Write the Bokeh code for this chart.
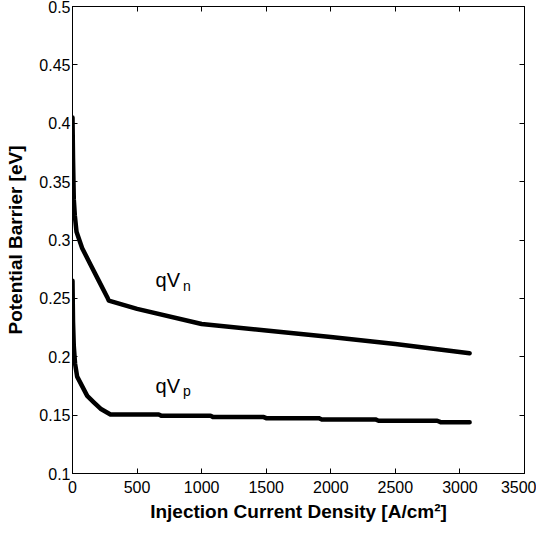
from bokeh.plotting import figure
from bokeh.models import LinearAxis, FixedTicker, Range1d, Label
from bokeh.embed import file_html
from bokeh.resources import INLINE

# ---- data ----
jn = [0, 4, 10, 18, 31, 75, 139, 204, 269, 281, 500, 1000, 1500, 2000, 2500, 3075]
vn = [0.405, 0.37, 0.335, 0.321, 0.307, 0.293, 0.279, 0.265, 0.251, 0.248,
      0.241, 0.228, 0.2225, 0.217, 0.211, 0.203]

jp = [0, 4, 10, 20, 36, 114, 165, 217, 294, 668, 690, 1069, 1090, 1481, 1500,
      1907, 1930, 2346, 2370, 2824, 2850, 3075]
vp = [0.265, 0.23, 0.209, 0.194, 0.183, 0.1665, 0.161, 0.1555, 0.1505, 0.1505,
      0.1494, 0.1494, 0.1483, 0.1483, 0.1474, 0.1474, 0.1463, 0.1463, 0.1452,
      0.1452, 0.1440, 0.1440]

x_ticks = [0, 500, 1000, 1500, 2000, 2500, 3000, 3500]
x_tick_labels = ["0", "500", "1000", "1500", "2000", "2500", "3000", "3500"]
y_ticks = [0.1, 0.15, 0.2, 0.25, 0.3, 0.35, 0.4, 0.45, 0.5]
y_tick_labels = ["0.1", "0.15", "0.2", "0.25", "0.3", "0.35", "0.4", "0.45", "0.5"]

x_label = "Injection Current Density [A/cm\u00b2]"
y_label = "Potential Barrier [eV]"

FONT = "Liberation Sans"

p = figure(width=536, height=524, output_backend="svg", toolbar_location=None,
           x_range=Range1d(0, 3500), y_range=Range1d(0.1, 0.5),
           min_border_left=72, min_border_right=12, min_border_top=6,
           min_border_bottom=49)
p.xgrid.visible = False
p.ygrid.visible = False
p.outline_line_color = "black"
p.outline_line_width = 1
p.background_fill_color = "white"
p.border_fill_color = "white"


def style_axis(ax, show_labels=True):
    ax.axis_line_color = "black"
    ax.major_tick_in = 5
    ax.major_tick_out = 0
    ax.minor_tick_line_color = None
    ax.major_tick_line_color = "black"
    ax.major_label_text_font = FONT
    ax.major_label_text_font_size = "16px"
    ax.major_label_text_color = "black"
    if not show_labels:
        ax.major_label_text_font_size = "0px"
        ax.major_label_text_color = None
        ax.major_label_standoff = 0


xo = {v: s for v, s in zip(x_ticks, x_tick_labels)}
yo = {v: s for v, s in zip(y_ticks, y_tick_labels)}

xa = p.xaxis[0]
xa.ticker = FixedTicker(ticks=x_ticks)
xa.major_label_overrides = xo
style_axis(xa)
xa.major_label_standoff = 7
xa.axis_label = x_label
xa.axis_label_text_font = FONT
xa.axis_label_text_font_style = "bold"
xa.axis_label_text_font_size = "19px"
xa.axis_label_text_color = "black"
xa.axis_label_standoff = 5

ya = p.yaxis[0]
ya.ticker = FixedTicker(ticks=y_ticks)
ya.major_label_overrides = yo
style_axis(ya)
ya.major_label_standoff = 2
ya.axis_label = y_label
ya.axis_label_text_font = FONT
ya.axis_label_text_font_style = "bold"
ya.axis_label_text_font_size = "19px"
ya.axis_label_text_color = "black"
ya.axis_label_standoff = 10

top = LinearAxis(ticker=FixedTicker(ticks=x_ticks))
style_axis(top, show_labels=False)
p.add_layout(top, "above")
right = LinearAxis(ticker=FixedTicker(ticks=y_ticks))
style_axis(right, show_labels=False)
p.add_layout(right, "right")

p.line(jn, vn, line_color="black", line_width=4.5, line_cap="round", line_join="round")
p.line(jp, vp, line_color="black", line_width=4.5, line_cap="round", line_join="round")

for txt, x, y, size in [("qV", 643, 0.266, "20px"), ("n", 855, 0.2605, "14px"),
                        ("qV", 643, 0.175, "20px"), ("p", 855, 0.1705, "14px")]:
    p.add_layout(Label(x=x, y=y, text=txt, text_font=FONT, text_font_size=size,
                       text_color="black", text_baseline="alphabetic"))

open("out.html", "w").write(file_html(p, INLINE))
